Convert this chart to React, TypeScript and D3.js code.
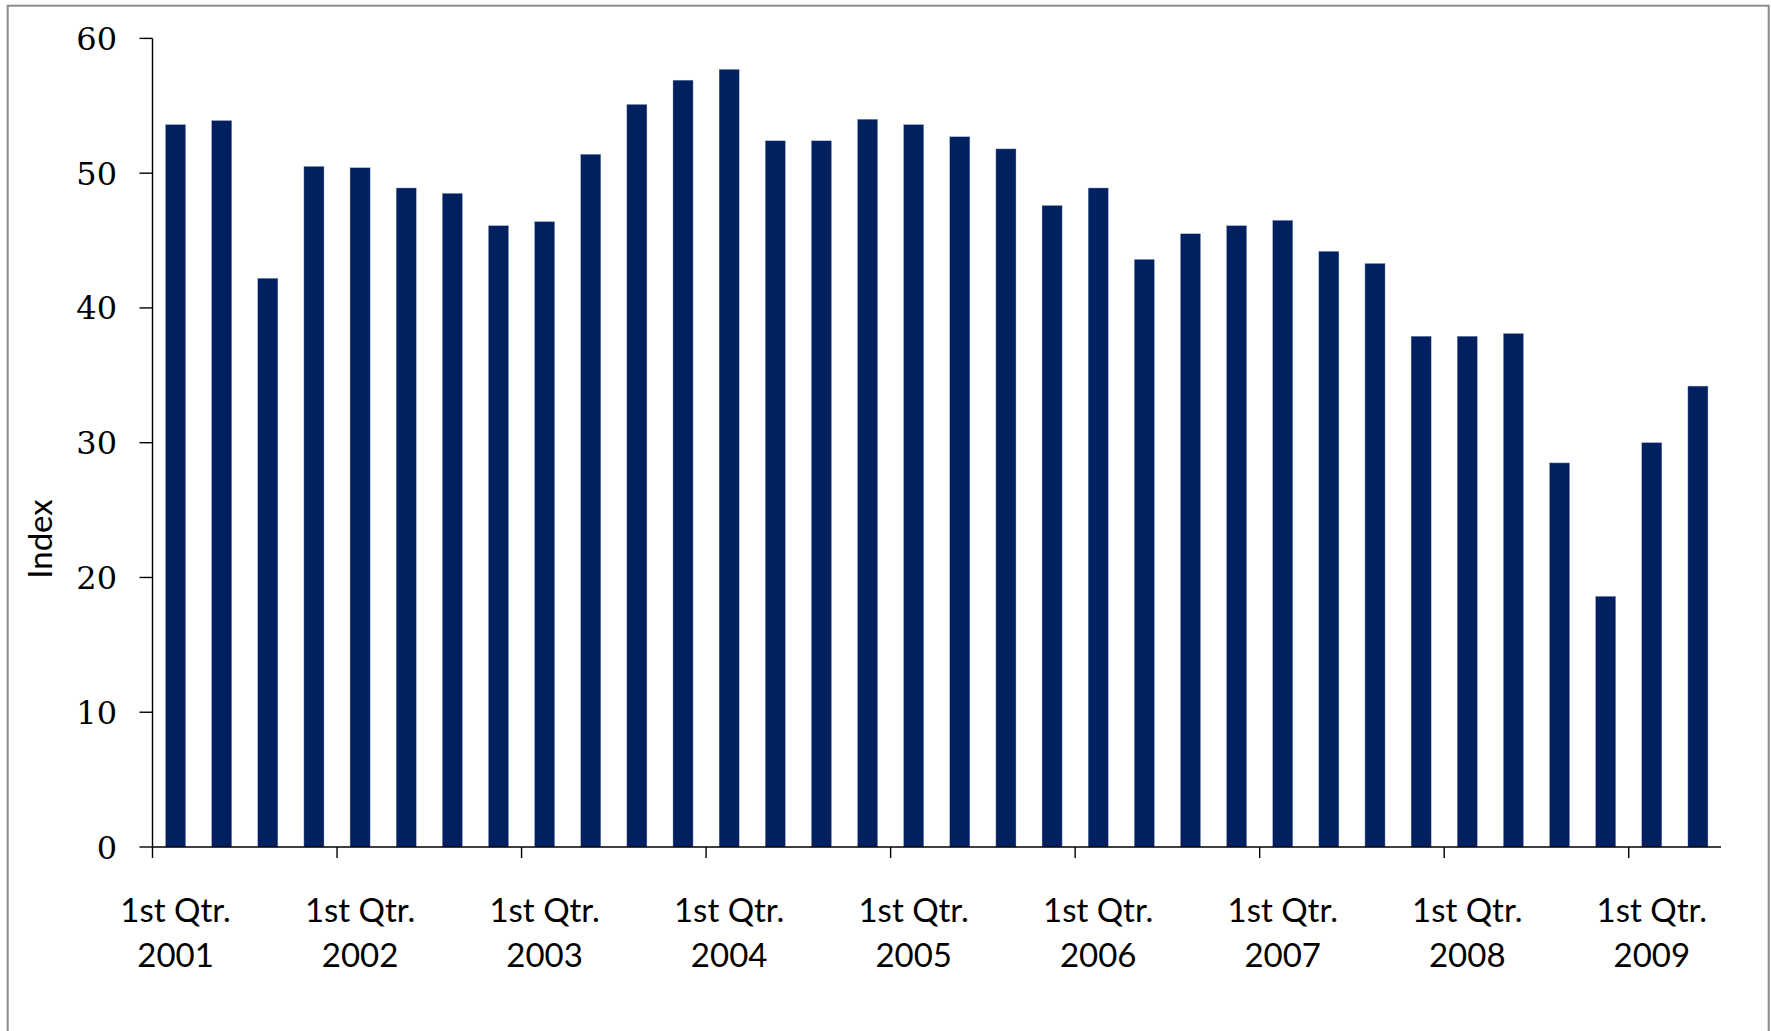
import React from 'react';
import * as d3 from 'd3';

const years = ['2001', '2002', '2003', '2004', '2005', '2006', '2007', '2008', '2009'];
const quarterNames = ['1st Qtr.', '2nd Qtr.', '3rd Qtr.', '4th Qtr.'];
const values = [
    53.6, 53.9, 42.2, 50.5,
    50.4, 48.9, 48.5, 46.1,
    46.4, 51.4, 55.1, 56.9,
    57.7, 52.4, 52.4, 54.0,
    53.6, 52.7, 51.8, 47.6,
    48.9, 43.6, 45.5, 46.1,
    46.5, 44.2, 43.3, 37.9,
    37.9, 38.1, 28.5, 18.6,
    30.0, 34.2,
];
const yTicks = [0, 10, 20, 30, 40, 50, 60];

const categories = values.map((_, i) => ({
    quarter: quarterNames[i % 4],
    year: years[Math.floor(i / 4)],
    key: `${quarterNames[i % 4]} ${years[Math.floor(i / 4)]}`,
}));

const W = 1771, H = 1031;
const left = 152.5, right = 1721, top = 38.4, bottom = 847;
const barColor = '#00205f';

const App = () => {
    const x = d3.scaleBand().domain(categories.map(c => c.key)).range([left, right]).paddingInner(1.3 / 2.3).paddingOuter(0.65 / 2.3);
    const band = d3.scaleBand().domain(categories.map(c => c.key)).range([left, right]);
    const y = d3.scaleLinear().domain([0, 60]).range([bottom, top]);

    return (
        <svg width={W} height={H} style={{ position: 'absolute', left: 0, top: 0, background: '#fff' }}>
            <rect x={7.7} y={5.7} width={1761} height={1100} fill="#fff" stroke="#8a8a8a" strokeWidth={2} />

            {values.map((v, i) => (
                <rect key={i} x={x(categories[i].key)} y={y(v)} width={x.bandwidth()} height={bottom - y(v)}
                    fill={barColor} stroke="#8fa0c4" strokeWidth={0.4} />
            ))}

            {/* y axis */}
            <line x1={left} x2={left} y1={top} y2={bottom} stroke="#000" strokeWidth={1.4} />
            {yTicks.map(t => (
                <g key={t}>
                    <line x1={left - 13} x2={left} y1={y(t)} y2={y(t)} stroke="#000" strokeWidth={1.4} />
                    <text x={117} y={y(t)} dy="0.36em" textAnchor="end"
                        style={{ fontFamily: '"DejaVu Serif", serif', fontSize: 32, fill: '#000' }}>{t}</text>
                </g>
            ))}
            <text transform={`translate(52,539) rotate(-90)`} textAnchor="middle"
                style={{ fontFamily: 'Lato, sans-serif', fontSize: 33, fill: '#000' }}>Index</text>

            {/* x axis */}
            <line x1={left} x2={right} y1={bottom} y2={bottom} stroke="#000" strokeWidth={1.4} />
            {categories.map((c, i) => i % 4 === 0 ? (
                <g key={c.key}>
                    <line x1={band(c.key)} x2={band(c.key)} y1={bottom} y2={bottom + 11} stroke="#000" strokeWidth={1.4} />
                    <text x={band(c.key) + band.bandwidth() / 2} y={921.7} textAnchor="middle"
                        style={{ fontFamily: 'Lato, sans-serif', fontSize: 33, fill: '#000' }}>{c.quarter}</text>
                    <text x={band(c.key) + band.bandwidth() / 2} y={966.7} textAnchor="middle"
                        style={{ fontFamily: 'Lato, sans-serif', fontSize: 33, fill: '#000' }}>{c.year}</text>
                </g>
            ) : null)}
        </svg>
    );
};

export default App;
